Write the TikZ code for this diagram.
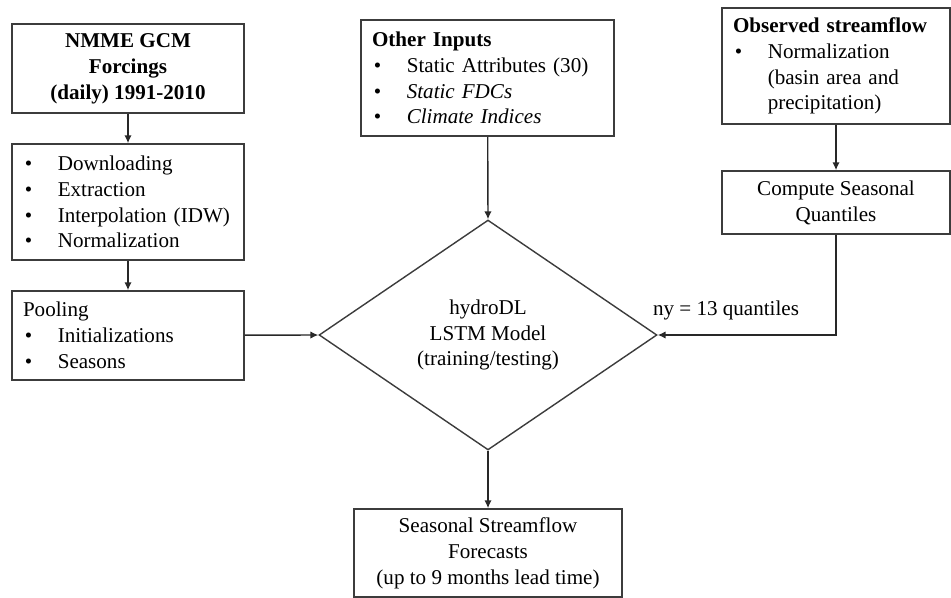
\documentclass[tikz,border=0pt]{standalone}
\usepackage{fontspec}
\setmainfont{Liberation Serif}
\usetikzlibrary{arrows.meta,shapes.geometric}

\newcommand{\bitem}[1]{\mbox{\makebox[19.8pt][l]{\hspace{1.1pt}\textbullet}#1}}
\newcommand{\bindent}{\hspace*{19.8pt}}

\begin{document}
\begin{tikzpicture}[x=0.02cm, y=-0.02cm, every node/.style={font=\fontsize{12}{14.7}\selectfont}]
  \tikzset{boxL/.style={rectangle, draw={rgb,255:red,60;green,60;blue,60}, line width=0.9pt, inner xsep=6.2pt, inner ysep=0pt, align=left}}
  \tikzset{boxC/.style={rectangle, draw={rgb,255:red,60;green,60;blue,60}, line width=0.9pt, inner sep=0pt, align=center}}
  \tikzset{dia/.style={diamond, aspect=1.47, draw={rgb,255:red,60;green,60;blue,60}, line width=0.8pt, inner sep=0pt, align=center, minimum width=6.76cm, minimum height=4.6cm}}
  \tikzset{arr/.style={draw={rgb,255:red,40;green,40;blue,40}, line width=0.8pt, -{Latex[length=4.5pt,width=4.2pt]}}}
  \useasboundingbox (0,0) rectangle (951,598);
  \node[boxC, minimum width=4.64cm, minimum height=1.78cm] (nmme) at (128,68.5) {\textbf{NMME GCM}\\\textbf{Forcings}\\\textbf{(daily) 1991-2010}};
  \node[boxL, minimum width=4.64cm, minimum height=2.32cm, text width=4.2cm] (prep) at (128,202) {\bitem{Downloading}\\\bitem{Extraction}\\\bitem{Interpolation (IDW)}\\\bitem{Normalization}};
  \node[boxL, minimum width=4.64cm, minimum height=1.78cm, text width=4.2cm] (pool) at (128,335.5) {Pooling\\\bitem{Initializations}\\\bitem{Seasons}};
  \node[boxL, minimum width=5.06cm, minimum height=2.32cm, text width=4.62cm] (other) at (487.5,78) {\textbf{Other Inputs}\\\bitem{Static Attributes (30)}\\\bitem{\textit{Static FDCs}}\\\bitem{\textit{Climate Indices}}};
  \node[boxL, minimum width=4.56cm, minimum height=2.32cm, text width=4.12cm] (obs) at (836,66) {\textbf{Observed streamflow}\\\bitem{Normalization}\\\bindent(basin area and\\\bindent precipitation)};
  \node[boxC, minimum width=4.56cm, minimum height=1.26cm] (quant) at (836,202.5) {Compute Seasonal\\Quantiles};
  \node[dia] (model) at (488,335) {hydroDL\\LSTM Model\\(training/testing)};
  \node[boxC, minimum width=5.36cm, minimum height=1.76cm] (out) at (488,553) {Seasonal Streamflow\\Forecasts\\(up to 9 months lead time)};
  \node[inner sep=0pt] (nylab) at (726,310) {ny = 13 quantiles};
  % arrows
  \draw[arr] (nmme) -- (prep);
  \draw[arr] (prep) -- (pool);
  \draw[arr] (pool) -- (model.west);
  \draw[arr] (other) -- (model.north);
  \draw[arr] (obs) -- (quant);
  \draw[arr] (quant.south) |- (model.east);
  \draw[arr] (model.south) -- (out);
\end{tikzpicture}
\end{document}
